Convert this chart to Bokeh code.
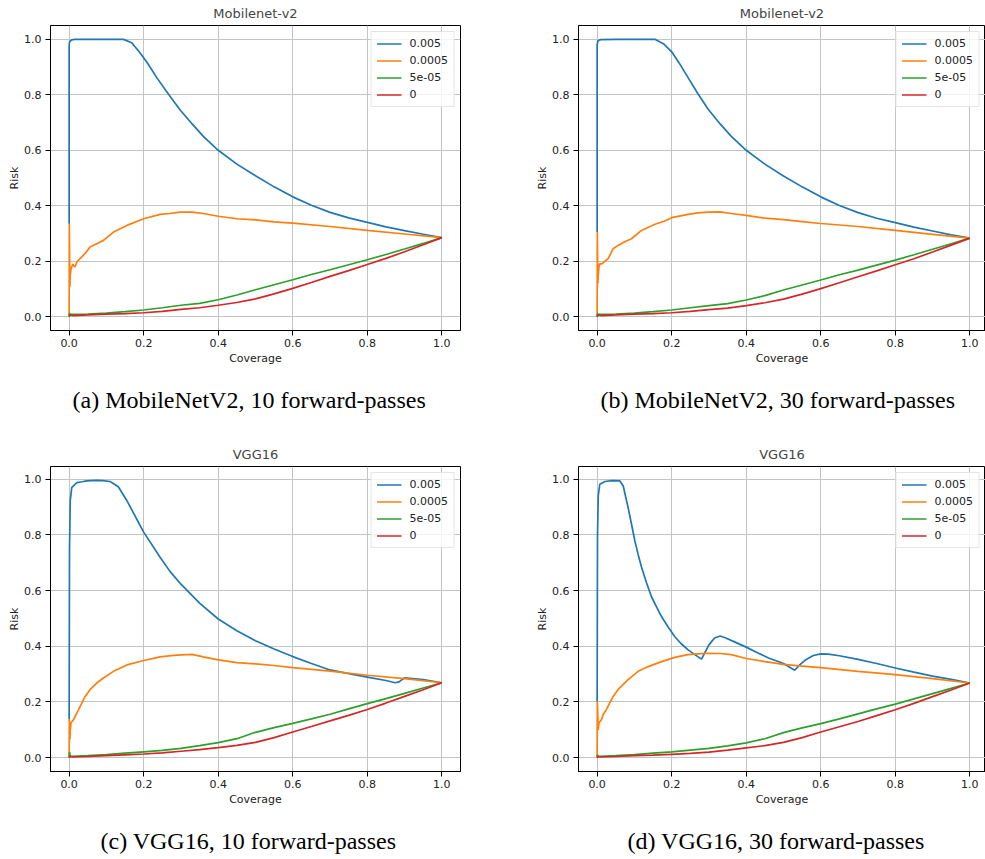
from bokeh.plotting import figure
from bokeh.layouts import column, row
from bokeh.models import FixedTicker, Legend, LegendItem, Title, Range1d
from bokeh.embed import file_html
from bokeh.resources import INLINE

# ---------------- data ----------------
series_names = ["0.005", "0.0005", "5e-05", "0"]
series_colors = ["#1f77b4", "#ff7f0e", "#2ca02c", "#d62728"]
tick_values = [0.0, 0.2, 0.4, 0.6, 0.8, 1.0]
tick_labels = ["0.0", "0.2", "0.4", "0.6", "0.8", "1.0"]
panel_titles = ["Mobilenet-v2", "Mobilenet-v2", "VGG16", "VGG16"]
panel_captions = ["(a) MobileNetV2, 10 forward-passes", "(b) MobileNetV2, 30 forward-passes",
                  "(c) VGG16, 10 forward-passes", "(d) VGG16, 30 forward-passes"]

# panel (a)
a_blue_x = [0.0, 0.0, 0.001, 0.003, 0.007, 0.015, 0.05, 0.1, 0.146, 0.168, 0.19, 0.21, 0.235, 0.26, 0.28, 0.298, 0.33, 0.36, 0.4, 0.45, 0.5, 0.55, 0.6, 0.65, 0.7, 0.75, 0.8, 0.85, 0.9, 0.95, 1.0]
a_blue_y = [0.335, 0.976, 0.99, 0.994, 0.998, 1.0, 1.0, 1.0, 1.0, 0.988, 0.952, 0.915, 0.862, 0.815, 0.778, 0.745, 0.695, 0.65, 0.6, 0.55, 0.508, 0.468, 0.432, 0.402, 0.376, 0.356, 0.34, 0.324, 0.31, 0.297, 0.285]
a_orange_x = [0.0, 0.0005, 0.002, 0.003, 0.005, 0.007, 0.01, 0.012, 0.016, 0.021, 0.03, 0.043, 0.056, 0.074, 0.092, 0.119, 0.155, 0.2, 0.244, 0.27, 0.298, 0.33, 0.36, 0.4, 0.45, 0.5, 0.55, 0.6, 0.7, 0.8, 0.9, 1.0]
a_orange_y = [0.0, 0.335, 0.108, 0.15, 0.17, 0.18, 0.19, 0.183, 0.18, 0.198, 0.21, 0.228, 0.251, 0.263, 0.275, 0.305, 0.329, 0.353, 0.369, 0.372, 0.377, 0.377, 0.372, 0.362, 0.353, 0.349, 0.342, 0.337, 0.325, 0.311, 0.298, 0.285]
a_green_x = [0.0, 0.001, 0.003, 0.01, 0.05, 0.1, 0.15, 0.2, 0.25, 0.3, 0.35, 0.4, 0.45, 0.5, 0.55, 0.6, 0.65, 0.7, 0.75, 0.8, 0.85, 0.9, 0.95, 1.0]
a_green_y = [0.0, 0.012, 0.008, 0.008, 0.009, 0.013, 0.018, 0.024, 0.032, 0.041, 0.048, 0.061, 0.078, 0.097, 0.115, 0.133, 0.152, 0.169, 0.187, 0.205, 0.224, 0.244, 0.264, 0.285]
a_red_x = [0.0, 0.003, 0.01, 0.05, 0.1, 0.15, 0.2, 0.25, 0.3, 0.35, 0.4, 0.45, 0.5, 0.55, 0.6, 0.65, 0.7, 0.75, 0.8, 0.85, 0.9, 0.95, 1.0]
a_red_y = [0.0, 0.006, 0.004, 0.006, 0.009, 0.011, 0.014, 0.019, 0.026, 0.032, 0.041, 0.051, 0.064, 0.082, 0.102, 0.123, 0.145, 0.166, 0.188, 0.21, 0.234, 0.259, 0.285]

# panel (b)
b_blue_x = [0.0, 0.0, 0.002, 0.005, 0.01, 0.05, 0.1, 0.155, 0.18, 0.2, 0.22, 0.244, 0.27, 0.298, 0.33, 0.36, 0.4, 0.45, 0.5, 0.55, 0.6, 0.65, 0.7, 0.75, 0.8, 0.85, 0.9, 0.95, 1.0]
b_blue_y = [0.305, 0.98, 0.994, 0.997, 0.999, 1.0, 1.0, 1.0, 0.982, 0.955, 0.915, 0.862, 0.805, 0.748, 0.695, 0.65, 0.6, 0.55, 0.507, 0.468, 0.432, 0.401, 0.375, 0.355, 0.339, 0.323, 0.309, 0.295, 0.283]
b_orange_x = [0.0, 0.0005, 0.002, 0.003, 0.005, 0.007, 0.012, 0.016, 0.021, 0.03, 0.043, 0.056, 0.074, 0.092, 0.119, 0.155, 0.18, 0.2, 0.244, 0.27, 0.3, 0.33, 0.36, 0.4, 0.45, 0.5, 0.55, 0.6, 0.7, 0.8, 0.9, 1.0]
b_orange_y = [0.0, 0.305, 0.12, 0.15, 0.18, 0.19, 0.19, 0.194, 0.2, 0.21, 0.245, 0.257, 0.27, 0.281, 0.311, 0.333, 0.344, 0.357, 0.369, 0.374, 0.377, 0.378, 0.372, 0.365, 0.355, 0.35, 0.343, 0.336, 0.325, 0.311, 0.297, 0.283]
b_green_x = [0.0, 0.001, 0.003, 0.01, 0.05, 0.1, 0.15, 0.2, 0.25, 0.3, 0.35, 0.4, 0.45, 0.5, 0.55, 0.6, 0.65, 0.7, 0.75, 0.8, 0.85, 0.9, 0.95, 1.0]
b_green_y = [0.0, 0.011, 0.008, 0.008, 0.009, 0.013, 0.018, 0.024, 0.032, 0.04, 0.047, 0.06, 0.076, 0.096, 0.114, 0.132, 0.151, 0.168, 0.186, 0.204, 0.223, 0.243, 0.263, 0.283]
b_red_x = [0.0, 0.003, 0.01, 0.05, 0.1, 0.15, 0.2, 0.25, 0.3, 0.35, 0.4, 0.45, 0.5, 0.55, 0.6, 0.65, 0.7, 0.75, 0.8, 0.85, 0.9, 0.95, 1.0]
b_red_y = [0.0, 0.006, 0.004, 0.006, 0.009, 0.011, 0.014, 0.019, 0.025, 0.031, 0.04, 0.05, 0.063, 0.081, 0.101, 0.122, 0.144, 0.165, 0.187, 0.209, 0.233, 0.258, 0.283]

# panel (c)
c_blue_x = [0.0, 0.001, 0.003, 0.007, 0.014, 0.021, 0.035, 0.047, 0.074, 0.09, 0.11, 0.132, 0.155, 0.18, 0.2, 0.244, 0.27, 0.3, 0.35, 0.4, 0.45, 0.5, 0.55, 0.6, 0.65, 0.7, 0.75, 0.8, 0.85, 0.875, 0.885, 0.9, 0.95, 1.0]
c_blue_y = [0.137, 0.75, 0.923, 0.97, 0.98, 0.988, 0.991, 0.994, 0.996, 0.995, 0.992, 0.973, 0.923, 0.86, 0.81, 0.72, 0.67, 0.623, 0.555, 0.498, 0.456, 0.42, 0.39, 0.363, 0.338, 0.315, 0.302, 0.289, 0.277, 0.269, 0.272, 0.287, 0.28, 0.269]
c_orange_x = [0.0, 0.0005, 0.002, 0.003, 0.005, 0.012, 0.021, 0.03, 0.043, 0.056, 0.074, 0.092, 0.119, 0.155, 0.2, 0.244, 0.28, 0.3, 0.33, 0.36, 0.4, 0.45, 0.5, 0.55, 0.6, 0.7, 0.8, 0.9, 1.0]
c_orange_y = [0.0, 0.137, 0.065, 0.1, 0.125, 0.137, 0.161, 0.185, 0.22, 0.244, 0.268, 0.286, 0.31, 0.333, 0.349, 0.362, 0.367, 0.369, 0.371, 0.362, 0.351, 0.341, 0.337, 0.331, 0.323, 0.311, 0.296, 0.284, 0.269]
c_green_x = [0.0, 0.001, 0.003, 0.01, 0.05, 0.1, 0.15, 0.2, 0.25, 0.3, 0.35, 0.4, 0.45, 0.5, 0.55, 0.6, 0.65, 0.7, 0.75, 0.8, 0.85, 0.9, 0.95, 1.0]
c_green_y = [0.0, 0.02, 0.005, 0.005, 0.007, 0.011, 0.016, 0.021, 0.026, 0.033, 0.043, 0.054, 0.068, 0.091, 0.108, 0.123, 0.139, 0.156, 0.175, 0.194, 0.212, 0.231, 0.25, 0.269]
c_red_x = [0.0, 0.003, 0.01, 0.05, 0.1, 0.15, 0.2, 0.25, 0.3, 0.35, 0.4, 0.45, 0.5, 0.55, 0.6, 0.65, 0.7, 0.75, 0.8, 0.85, 0.9, 0.95, 1.0]
c_red_y = [0.0, 0.004, 0.003, 0.004, 0.007, 0.01, 0.013, 0.017, 0.023, 0.029, 0.036, 0.044, 0.055, 0.072, 0.092, 0.112, 0.132, 0.152, 0.173, 0.196, 0.22, 0.244, 0.269]

# panel (d)
d_blue_x = [0.0, 0.001, 0.003, 0.007, 0.021, 0.04, 0.061, 0.07, 0.076, 0.083, 0.092, 0.101, 0.11, 0.119, 0.132, 0.146, 0.16, 0.173, 0.19, 0.208, 0.225, 0.244, 0.262, 0.28, 0.3, 0.315, 0.33, 0.345, 0.37, 0.4, 0.43, 0.46, 0.5, 0.53, 0.545, 0.56, 0.58, 0.6, 0.62, 0.65, 0.7, 0.75, 0.8, 0.85, 0.9, 0.95, 1.0]
d_blue_y = [0.202, 0.8, 0.94, 0.982, 0.992, 0.995, 0.994, 0.976, 0.94, 0.899, 0.84, 0.78, 0.73, 0.685, 0.63, 0.577, 0.54, 0.506, 0.47, 0.435, 0.41, 0.387, 0.37, 0.354, 0.405, 0.43, 0.437, 0.43, 0.415, 0.397, 0.377, 0.358, 0.338, 0.314, 0.335, 0.352, 0.367, 0.373, 0.372, 0.366, 0.353, 0.338, 0.322, 0.307, 0.293, 0.281, 0.268]
d_orange_x = [0.0, 0.0005, 0.003, 0.005, 0.012, 0.016, 0.025, 0.043, 0.056, 0.083, 0.11, 0.137, 0.173, 0.208, 0.244, 0.27, 0.3, 0.33, 0.36, 0.4, 0.45, 0.5, 0.55, 0.6, 0.7, 0.8, 0.9, 1.0]
d_orange_y = [0.0, 0.202, 0.1, 0.125, 0.137, 0.155, 0.173, 0.22, 0.244, 0.28, 0.31, 0.327, 0.345, 0.36, 0.37, 0.373, 0.375, 0.374, 0.37, 0.356, 0.345, 0.335, 0.329, 0.323, 0.31, 0.298, 0.284, 0.268]
d_green_x = [0.0, 0.001, 0.003, 0.01, 0.05, 0.1, 0.15, 0.2, 0.25, 0.3, 0.35, 0.4, 0.45, 0.5, 0.55, 0.6, 0.65, 0.7, 0.75, 0.8, 0.85, 0.9, 0.95, 1.0]
d_green_y = [0.0, 0.01, 0.004, 0.005, 0.007, 0.011, 0.016, 0.021, 0.027, 0.033, 0.042, 0.053, 0.068, 0.09, 0.107, 0.122, 0.139, 0.157, 0.175, 0.192, 0.211, 0.23, 0.249, 0.268]
d_red_x = [0.0, 0.003, 0.01, 0.05, 0.1, 0.15, 0.2, 0.25, 0.3, 0.35, 0.4, 0.45, 0.5, 0.55, 0.6, 0.65, 0.7, 0.75, 0.8, 0.85, 0.9, 0.95, 1.0]
d_red_y = [0.0, 0.004, 0.003, 0.004, 0.007, 0.009, 0.012, 0.015, 0.02, 0.027, 0.035, 0.043, 0.055, 0.072, 0.092, 0.111, 0.13, 0.151, 0.172, 0.195, 0.219, 0.243, 0.268]

panel_series = [
    [(a_blue_x, a_blue_y), (a_orange_x, a_orange_y), (a_green_x, a_green_y), (a_red_x, a_red_y)],
    [(b_blue_x, b_blue_y), (b_orange_x, b_orange_y), (b_green_x, b_green_y), (b_red_x, b_red_y)],
    [(c_blue_x, c_blue_y), (c_orange_x, c_orange_y), (c_green_x, c_green_y), (c_red_x, c_red_y)],
    [(d_blue_x, d_blue_y), (d_orange_x, d_orange_y), (d_green_x, d_green_y), (d_red_x, d_red_y)],
]

SANS = "DejaVu Sans"


def make_panel(idx, width, height, border_left, border_right, border_top, border_bottom,
               x_end, y_range, cap_offset):
    p = figure(width=width, height=height, output_backend="svg", toolbar_location=None,
               x_range=Range1d(-0.05, x_end), y_range=Range1d(*y_range),
               min_border_left=border_left, min_border_right=border_right,
               min_border_top=border_top, min_border_bottom=border_bottom)
    p.title.text = panel_titles[idx]
    p.title.align = "center"
    p.title.vertical_align = "middle"
    p.title.text_font = SANS
    p.title.text_font_size = "13px"
    p.title.text_font_style = "normal"
    p.title.standoff = 7
    p.outline_line_color = "black"
    p.outline_line_alpha = 1
    p.outline_line_width = 1
    for ax, lab in ((p.xaxis[0], "Coverage"), (p.yaxis[0], "Risk")):
        ax.ticker = FixedTicker(ticks=tick_values)
        ax.major_label_overrides = {v: l for v, l in zip(tick_values, tick_labels)}
        ax.minor_tick_line_color = None
        ax.major_tick_out = 5
        ax.major_tick_in = 0
        ax.major_tick_line_color = "black"
        ax.axis_line_color = "black"
        ax.major_label_text_font = SANS
        ax.major_label_text_font_size = "11px"
        ax.major_label_text_color = "#222222"
        ax.axis_label = lab
        ax.axis_label_text_font = SANS
        ax.axis_label_text_font_size = "11px"
        ax.axis_label_text_font_style = "normal"
        ax.axis_label_text_color = "#222222"
    p.xaxis.major_label_standoff = 3
    p.xaxis.axis_label_standoff = 2
    p.yaxis.major_label_standoff = 4
    p.yaxis.axis_label_standoff = 0
    p.grid.grid_line_color = "#c4c4c4"
    p.grid.grid_line_width = 1

    items = []
    for (xs, ys), name, col in zip(panel_series[idx], series_names, series_colors):
        r = p.line(xs, ys, line_color=col, line_width=1.7)
        items.append(LegendItem(label=name, renderers=[r]))
    leg = Legend(items=items, location="top_right", margin=6, padding=5, spacing=4,
                 glyph_width=25, glyph_height=13, label_height=13, label_standoff=8,
                 label_text_font=SANS, label_text_font_size="11px", label_text_color="#222222",
                 border_line_color="#cccccc", border_line_width=1,
                 background_fill_color="white", background_fill_alpha=0.8)
    p.add_layout(leg, "center")

    # spacer between the x axis and the sub-figure caption
    spacer = Title(text=" ", text_font_size="2px", standoff=13)
    p.add_layout(spacer, "below")
    cap = Title(text=panel_captions[idx], align="left", offset=cap_offset,
                vertical_align="bottom", text_font="Liberation Serif",
                text_font_size="24px", text_font_style="normal", text_color="black", standoff=0)
    p.add_layout(cap, "below")
    return p


pa = make_panel(0, 490, 430, 50, 30, 25, 100, 1.05, (-0.05, 1.05), 22)
pb = make_panel(1, 495, 430, 88, 0, 25, 100, 1.042, (-0.05, 1.05), 22)
pc = make_panel(2, 490, 429, 50, 30, 36, 88, 1.05, (-0.0498, 1.0458), 50)
pd_ = make_panel(3, 495, 429, 88, 0, 36, 88, 1.042, (-0.0498, 1.0458), 49)

layout = column(row(pa, pb, spacing=0), row(pc, pd_, spacing=0), spacing=0)

open("out.html", "w").write(file_html(layout, INLINE))
